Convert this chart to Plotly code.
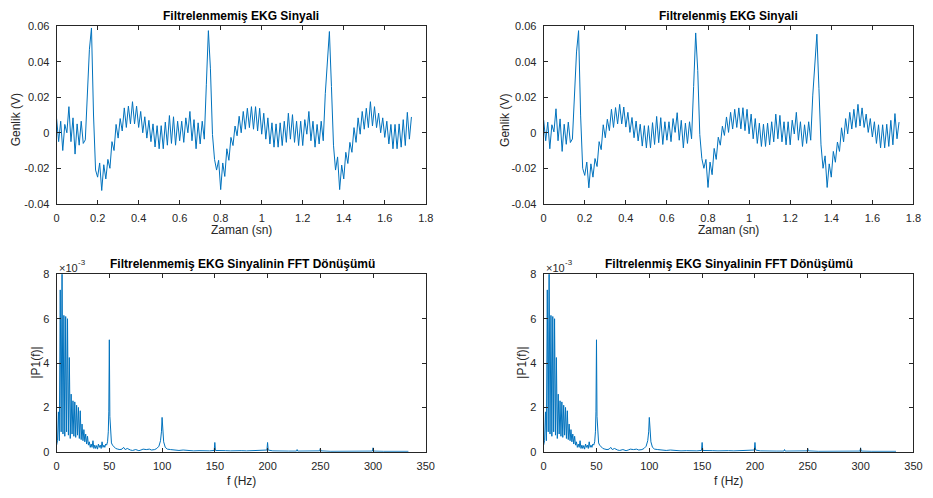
import numpy as np
import plotly.graph_objects as go

# ---------------------------------------------------------------------------
# Data
# ---------------------------------------------------------------------------
sample_period = 0.01  # s, spacing of the stored EKG samples

# Raw (unfiltered) EKG signal, volts
ekg_raw = [
    0.0080, -0.0050, 0.0065, -0.0100, 0.0047, 0.0000, 0.0147, -0.0050, 0.0084, -0.0120,
    0.0050, -0.0070, 0.0065, -0.0060, -0.0040, 0.0240, 0.0470, 0.0590, 0.0100, -0.0210,
    -0.0250, -0.0170, -0.0325, -0.0180, -0.0260, -0.0150, -0.0200, -0.0050, -0.0100, 0.0047,
    -0.0030, 0.0080, 0.0010, 0.0140, 0.0030, 0.0150, 0.0050, 0.0175, 0.0050, 0.0150,
    0.0030, 0.0120, 0.0000, 0.0090, -0.0030, 0.0070, -0.0050, 0.0050, -0.0080, 0.0040,
    -0.0090, 0.0040, -0.0090, 0.0060, -0.0070, 0.0097, -0.0060, 0.0090, -0.0070, 0.0065,
    -0.0045, 0.0065, -0.0054, 0.0084, 0.0000, 0.0120, -0.0045, 0.0074, -0.0090, 0.0056,
    -0.0063, 0.0065, -0.0036, 0.0270, 0.0575, 0.0360, -0.0010, -0.0150, -0.0210, -0.0155,
    -0.0320, -0.0170, -0.0246, -0.0090, -0.0155, -0.0026, -0.0072, 0.0038, -0.0017, 0.0093,
    0.0000, 0.0120, 0.0020, 0.0138, 0.0029, 0.0147, 0.0020, 0.0147, 0.0010, 0.0138,
    -0.0008, 0.0110, -0.0036, 0.0084, -0.0063, 0.0056, -0.0081, 0.0050, -0.0081, 0.0056,
    -0.0072, 0.0065, -0.0054, 0.0110, -0.0036, 0.0102, -0.0054, 0.0065, -0.0072, 0.0065,
    -0.0072, 0.0074, -0.0008, 0.0120, -0.0045, 0.0065, -0.0081, 0.0047, -0.0063, 0.0065,
    -0.0045, 0.0220, 0.0400, 0.0570, 0.0260, -0.0070, -0.0210, -0.0136, -0.0320, -0.0182,
    -0.0260, -0.0110, -0.0173, -0.0054, -0.0110, 0.0029, -0.0054, 0.0084, -0.0008, 0.0120,
    0.0020, 0.0138, 0.0029, 0.0175, 0.0038, 0.0147, 0.0029, 0.0110, 0.0000, 0.0084,
    -0.0026, 0.0065, -0.0063, 0.0047, -0.0090, 0.0047, -0.0090, 0.0050, -0.0081, 0.0074,
    -0.0072, 0.0115, -0.0036, 0.0089,
]

# Filtered EKG signal, volts
ekg_filtered = [
    0.0072, -0.0045, 0.0060, -0.0090, 0.0045, 0.0005, 0.0135, -0.0045, 0.0078, -0.0105,
    0.0048, -0.0065, 0.0060, -0.0055, -0.0035, 0.0225, 0.0455, 0.0575, 0.0095, -0.0200,
    -0.0240, -0.0165, -0.0310, -0.0175, -0.0250, -0.0145, -0.0190, -0.0050, -0.0095, 0.0045,
    -0.0028, 0.0076, 0.0012, 0.0132, 0.0030, 0.0142, 0.0050, 0.0160, 0.0050, 0.0145,
    0.0032, 0.0115, 0.0002, 0.0086, -0.0028, 0.0066, -0.0046, 0.0048, -0.0075, 0.0040,
    -0.0085, 0.0040, -0.0085, 0.0057, -0.0066, 0.0092, -0.0056, 0.0085, -0.0066, 0.0062,
    -0.0042, 0.0062, -0.0050, 0.0080, 0.0002, 0.0113, -0.0042, 0.0070, -0.0085, 0.0054,
    -0.0060, 0.0062, -0.0034, 0.0260, 0.0562, 0.0350, -0.0010, -0.0145, -0.0200, -0.0150,
    -0.0308, -0.0165, -0.0236, -0.0088, -0.0150, -0.0025, -0.0070, 0.0037, -0.0015, 0.0089,
    0.0002, 0.0115, 0.0021, 0.0132, 0.0030, 0.0140, 0.0022, 0.0141, 0.0012, 0.0132,
    -0.0006, 0.0105, -0.0034, 0.0080, -0.0060, 0.0054, -0.0077, 0.0048, -0.0077, 0.0054,
    -0.0068, 0.0062, -0.0051, 0.0105, -0.0034, 0.0098, -0.0051, 0.0062, -0.0068, 0.0062,
    -0.0068, 0.0071, -0.0007, 0.0115, -0.0042, 0.0062, -0.0077, 0.0045, -0.0060, 0.0062,
    -0.0042, 0.0212, 0.0388, 0.0555, 0.0250, -0.0068, -0.0200, -0.0130, -0.0308, -0.0175,
    -0.0250, -0.0105, -0.0166, -0.0052, -0.0105, 0.0028, -0.0051, 0.0080, -0.0006, 0.0115,
    0.0021, 0.0132, 0.0030, 0.0160, 0.0038, 0.0140, 0.0030, 0.0105, 0.0002, 0.0080,
    -0.0024, 0.0062, -0.0060, 0.0045, -0.0085, 0.0045, -0.0085, 0.0048, -0.0077, 0.0070,
    -0.0068, 0.0108, -0.0034, 0.0060,
]

# Single-sided amplitude spectrum |P1(f)|
spectrum_freq = [
    0.00, 0.86, 1.72, 2.59, 3.45, 4.31, 5.17, 6.03, 6.90, 7.76,
    8.62, 9.48, 10.34, 11.21, 12.07, 12.93, 13.79, 14.66, 15.52, 16.38,
    17.24, 18.10, 18.97, 19.83, 20.69, 21.55, 22.41, 23.28, 24.14, 25.00,
    25.86, 26.72, 27.59, 28.45, 29.31, 30.17, 31.03, 31.90, 32.76, 33.62,
    34.48, 35.34, 36.21, 37.07, 37.93, 38.79, 39.66, 40.52, 41.38, 42.24,
    43.10, 43.97, 44.83, 45.69, 46.55, 47.41, 48.30, 49.00, 49.50, 50.00,
    50.50, 51.10, 52.00, 53.00, 54.50, 56.00, 58.00, 60.00, 62.00, 63.50,
    65.00, 67.00, 70.00, 72.00, 75.00, 78.00, 80.00, 82.00, 85.00, 88.00,
    90.00, 93.00, 95.00, 97.00, 98.50, 99.40, 100.00, 100.60, 101.50, 103.00,
    105.00, 108.00, 112.00, 116.00, 120.00, 125.00, 130.00, 135.00, 140.00, 145.00,
    149.40, 150.00, 150.60, 155.00, 160.00, 165.00, 170.00, 175.00, 180.00, 185.00,
    190.00, 195.00, 199.40, 200.00, 200.60, 205.00, 210.00, 215.00, 220.00, 227.40,
    228.00, 228.60, 235.00, 240.00, 245.00, 249.40, 250.00, 250.60, 260.00, 270.00,
    280.00, 290.00, 299.40, 300.00, 300.60, 310.00, 320.00, 333.50,
]
spectrum_mag = [
    0.30e-3, 0.50e-3, 1.80e-3, 0.50e-3, 7.30e-3, 0.90e-3, 8.30e-3, 0.80e-3, 6.15e-3, 0.70e-3,
    6.10e-3, 0.90e-3, 6.00e-3, 0.75e-3, 4.25e-3, 0.60e-3, 2.60e-3, 0.80e-3, 2.30e-3, 0.70e-3,
    2.25e-3, 0.65e-3, 2.10e-3, 0.75e-3, 2.00e-3, 0.60e-3, 1.85e-3, 0.55e-3, 1.25e-3, 0.50e-3,
    1.00e-3, 0.45e-3, 0.80e-3, 0.35e-3, 0.70e-3, 0.30e-3, 0.45e-3, 0.20e-3, 0.35e-3, 0.20e-3,
    0.50e-3, 0.15e-3, 0.30e-3, 0.15e-3, 0.28e-3, 0.12e-3, 0.35e-3, 0.20e-3, 0.30e-3, 0.15e-3,
    0.45e-3, 0.20e-3, 0.30e-3, 0.20e-3, 0.35e-3, 0.30e-3, 0.45e-3, 0.90e-3, 1.80e-3, 5.05e-3,
    1.60e-3, 0.70e-3, 0.40e-3, 0.30e-3, 0.20e-3, 0.15e-3, 0.12e-3, 0.10e-3, 0.12e-3, 0.20e-3,
    0.10e-3, 0.15e-3, 0.08e-3, 0.06e-3, 0.10e-3, 0.05e-3, 0.08e-3, 0.12e-3, 0.10e-3, 0.12e-3,
    0.08e-3, 0.10e-3, 0.15e-3, 0.25e-3, 0.50e-3, 0.90e-3, 1.55e-3, 0.90e-3, 0.45e-3, 0.20e-3,
    0.12e-3, 0.10e-3, 0.08e-3, 0.06e-3, 0.08e-3, 0.05e-3, 0.04e-3, 0.05e-3, 0.04e-3, 0.04e-3,
    0.06e-3, 0.42e-3, 0.06e-3, 0.04e-3, 0.05e-3, 0.04e-3, 0.06e-3, 0.05e-3, 0.04e-3, 0.05e-3,
    0.04e-3, 0.05e-3, 0.08e-3, 0.42e-3, 0.08e-3, 0.04e-3, 0.03e-3, 0.04e-3, 0.03e-3, 0.03e-3,
    0.10e-3, 0.03e-3, 0.03e-3, 0.02e-3, 0.03e-3, 0.04e-3, 0.15e-3, 0.04e-3, 0.02e-3, 0.03e-3,
    0.02e-3, 0.02e-3, 0.03e-3, 0.18e-3, 0.03e-3, 0.02e-3, 0.02e-3, 0.02e-3,
]

time_ticks = [0, 0.2, 0.4, 0.6, 0.8, 1.0, 1.2, 1.4, 1.6, 1.8]
time_tick_labels = ["0", "0.2", "0.4", "0.6", "0.8", "1", "1.2", "1.4", "1.6", "1.8"]
amp_ticks = [-0.04, -0.02, 0, 0.02, 0.04, 0.06]
amp_tick_labels = ["-0.04", "-0.02", "0", "0.02", "0.04", "0.06"]
freq_ticks = [0, 50, 100, 150, 200, 250, 300, 350]
freq_tick_labels = ["0", "50", "100", "150", "200", "250", "300", "350"]
mag_ticks = [0, 0.002, 0.004, 0.006, 0.008]
mag_tick_labels = ["0", "2", "4", "6", "8"]

t = np.arange(len(ekg_raw)) * sample_period

# ---------------------------------------------------------------------------
# Styling
# ---------------------------------------------------------------------------
W, H = 933, 498
FONT = "Liberation Sans, Arial, Helvetica, sans-serif"
LINE = "#0072BD"
AXC = "#262626"


def px_x(p):
    return p / W


def px_y(p):
    return 1 - p / H


def axis(domain, rng, tickvals, ticktext, anchor, standoff):
    return dict(
        domain=domain, range=rng, anchor=anchor,
        tickmode="array", tickvals=tickvals, ticktext=ticktext,
        showline=True, mirror="ticks", linecolor=AXC, linewidth=1,
        ticks="inside", ticklen=4, tickwidth=1, tickcolor=AXC,
        ticklabelstandoff=standoff,
        showgrid=False, zeroline=False,
        tickfont=dict(family=FONT, size=11, color=AXC),
    )


xl = [px_x(54.3), px_x(428.3)]
xr = [px_x(547.7), px_x(922.3)]
yt = [px_y(202.7), px_y(20.7)]
yb = [px_y(456.8), px_y(275.0)]

fig = go.Figure()
fig.add_trace(go.Scatter(x=t, y=ekg_raw, mode="lines",
                         line=dict(color=LINE, width=1), xaxis="x", yaxis="y"))
fig.add_trace(go.Scatter(x=t, y=ekg_filtered, mode="lines",
                         line=dict(color=LINE, width=1), xaxis="x2", yaxis="y2"))
fig.add_trace(go.Scatter(x=spectrum_freq, y=spectrum_mag, mode="lines",
                         line=dict(color=LINE, width=1), xaxis="x3", yaxis="y3"))
fig.add_trace(go.Scatter(x=spectrum_freq, y=spectrum_mag, mode="lines",
                         line=dict(color=LINE, width=1), xaxis="x4", yaxis="y4"))

annotations = []


def label(text, x, y, size=12, bold=False, angle=0, xanchor="center", color=AXC):
    annotations.append(dict(
        text=f"<b>{text}</b>" if bold else text,
        x=px_x(x), y=px_y(y), xref="paper", yref="paper",
        xanchor=xanchor, yanchor="middle", showarrow=False, textangle=angle,
        font=dict(family=FONT, size=size, color=color),
    ))


# Subplot titles
label("Filtrelenmemiş EKG Sinyali", 241.5, 10.7, bold=True, color="#000000")
label("Filtrelenmiş EKG Sinyali", 735.0, 10.7, bold=True, color="#000000")
label("Filtrelenmemiş EKG Sinyalinin FFT Dönüşümü", 242.5, 264.3, bold=True, color="#000000")
label("Filtrelenmiş EKG Sinyalinin FFT Dönüşümü", 735.0, 264.3, bold=True, color="#000000")

# Axis titles
label("Zaman (sn)", 241.3, 230.0)
label("Zaman (sn)", 735.0, 230.0)
label("f (Hz)", 241.3, 487.0)
label("f (Hz)", 735.0, 487.0)
label("Genlik (V)", 13.3, 117.0, angle=-90)
label("Genlik (V)", 508.3, 117.0, angle=-90)
label("|P1(f)|", 33.3, 365.5, angle=-90)
label("|P1(f)|", 525.7, 365.5, angle=-90)

# Exponent marker of the spectrum axes (×10, raised -3)
for x0 in (54.5, 548.0):
    label("×10", x0, 268.5, size=11, xanchor="left")
    label("-3", x0 + 19.5, 263.0, size=8, xanchor="left")

fig.update_layout(
    width=W, height=H,
    margin=dict(l=0, r=0, t=0, b=0),
    paper_bgcolor="white", plot_bgcolor="white",
    showlegend=False,
    font=dict(family=FONT, color=AXC),
    xaxis=axis(xl, [0, 1.8], time_ticks, time_tick_labels, "y", 4),
    yaxis=axis(yt, [-0.04, 0.06], amp_ticks, amp_tick_labels, "x", 4),
    xaxis2=axis(xr, [0, 1.8], time_ticks, time_tick_labels, "y2", 4),
    yaxis2=axis(yt, [-0.04, 0.06], amp_ticks, amp_tick_labels, "x2", 4),
    xaxis3=axis(xl, [0, 350], freq_ticks, freq_tick_labels, "y3", 4),
    yaxis3=axis(yb, [0, 0.008], mag_ticks, mag_tick_labels, "x3", 4),
    xaxis4=axis(xr, [0, 350], freq_ticks, freq_tick_labels, "y4", 4),
    yaxis4=axis(yb, [0, 0.008], mag_ticks, mag_tick_labels, "x4", 4),
    annotations=annotations,
)

fig.write_html("out.html")
